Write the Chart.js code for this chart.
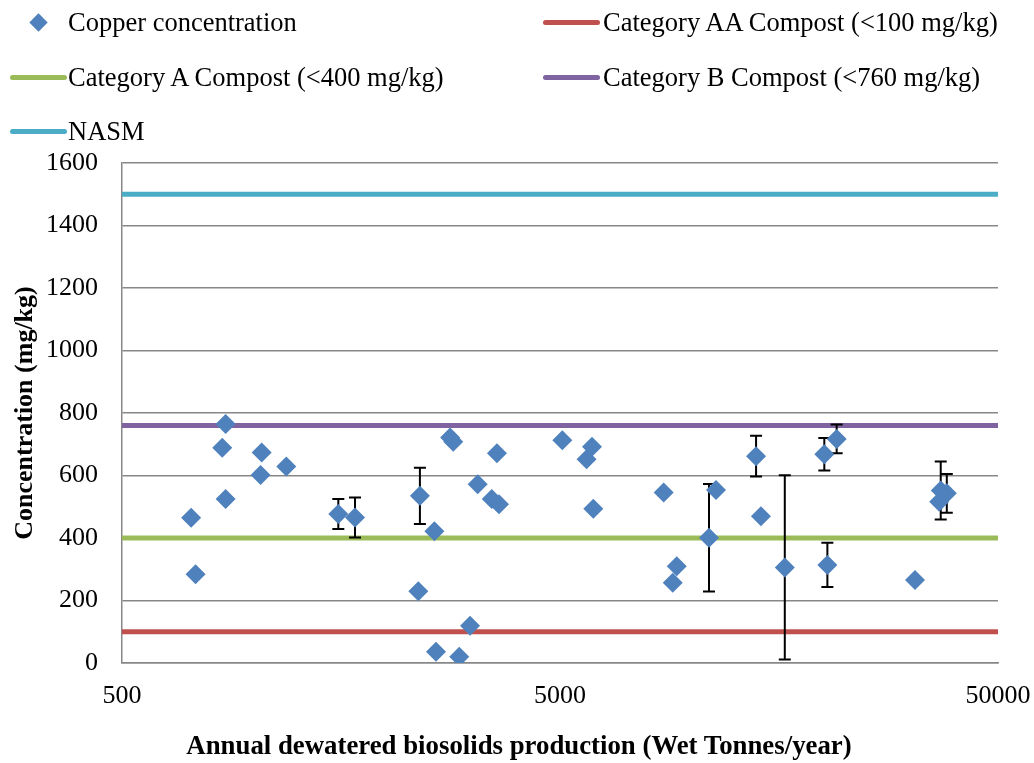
<!DOCTYPE html>
<html>
<head>
<meta charset="utf-8">
<script src="https://cdn.jsdelivr.net/npm/chart.js@4/dist/chart.umd.min.js"></script>
<style>
  body { margin: 0; background: #fff; }
  #wrap { position: relative; width: 1034px; height: 763px; font-family: "Liberation Serif", "Times New Roman", serif; }
  #chart { position: absolute; left: 0; top: 0; }
  .leg { position: absolute; font-size: 26.5px; line-height: 30px; color: #000; white-space: nowrap; }
  .sw { position: absolute; height: 5px; border-radius: 3px; }
  .dia { position: absolute; width: 13px; height: 13px; background: #4F81BD; transform: rotate(45deg); }
  #xtitle { position: absolute; left: 0; width: 1038px; top: 730px; text-align: center;
            font-size: 26.8px; line-height: 30px; font-weight: bold; color: #000; }
</style>
</head>
<body>
<div id="wrap">
  <canvas id="chart" width="1034" height="763"></canvas>
  <div id="xtitle">Annual dewatered biosolids production (Wet Tonnes/year)</div>
</div>
<script>
// copper concentration per facility
let production = [719, 736, 862, 847, 862, 1042, 1036, 1186, 1559, 1702,
                  2394, 2374, 2583, 2806, 2853, 2605, 2944, 3589, 3244, 3493,
                  3628, 3116, 5061, 5916, 5750, 5957, 8624, 9236, 9045, 10944,
                  11353, 14016, 14380, 16300, 20065, 21410, 20390, 32320, 36700, 37000,
                  38200];
let copper = [465, 284, 765, 689, 525, 674, 602, 629, 477, 466,
              535, 230, 422, 722, 708, 36, 20, 671, 572, 525,
              508, 119, 713, 692, 652, 494, 546, 310, 257, 401,
              554, 662, 470, 306, 668, 717, 314, 266, 516, 552,
              543];
let copperErr = [0, 0, 0, 0, 0, 0, 0, 0, 48, 64,
                 90, 0, 0, 0, 0, 0, 0, 0, 0, 0,
                 0, 8, 0, 0, 0, 0, 0, 0, 0, 172,
                 0, 65, 0, 295, 52, 46, 71, 0, 0, 93,
                 62];

// compost / NASM limits
let limitNames = ['Category AA Compost (<100 mg/kg)', 'Category A Compost (<400 mg/kg)',
                  'Category B Compost (<760 mg/kg)', 'NASM'];
let limitValues = [100, 400, 760, 1500];
let limitColors = ['#C0504D', '#9BBB59', '#8064A2', '#4BACC6'];

let xTicks = [500, 5000, 50000];
let yTicks = [0, 200, 400, 600, 800, 1000, 1200, 1400, 1600];

const blue = '#4F81BD',
      gridGray = '#878787',
      font = '"Liberation Serif", "Times New Roman", serif';

// legend, laid out like the original (two columns)
const $wrap = document.getElementById('wrap');
const legendSlots = [
    { left: 603, top: 22, sw: 543 },
    { left: 68, top: 77, sw: 10 },
    { left: 603, top: 77, sw: 543 },
    { left: 68, top: 131, sw: 10 }
];
let first = document.createElement('div');
first.className = 'leg';
first.style.left = '68px';
first.style.top = (22 - 15) + 'px';
first.textContent = 'Copper concentration';
$wrap.appendChild(first);
let dia = document.createElement('div');
dia.className = 'dia';
dia.style.left = (38 - 6.5) + 'px';
dia.style.top = (22 - 6.5) + 'px';
$wrap.appendChild(dia);

limitNames.forEach((name, i) => {
    let slot = legendSlots[i];
    let t = document.createElement('div');
    t.className = 'leg';
    t.style.left = slot.left + 'px';
    t.style.top = (slot.top - 15) + 'px';
    t.textContent = name;
    $wrap.appendChild(t);
    let s = document.createElement('div');
    s.className = 'sw';
    s.style.left = slot.sw + 'px';
    s.style.width = '57px';
    s.style.top = (slot.top - 2.5) + 'px';
    s.style.background = limitColors[i];
    $wrap.appendChild(s);
});

// error bars drawn between the limit lines and the diamonds
const errorBars = {
    id: 'errorBars',
    beforeDatasetDraw(chart, args) {
        if (args.index !== 0) return;
        const ctx = chart.ctx,
              xs = chart.scales.x,
              ys = chart.scales.y;
        ctx.save();
        ctx.strokeStyle = '#000';
        ctx.lineWidth = 2;
        production.forEach((p, i) => {
            let e = copperErr[i];
            if (!e) return;
            let px = xs.getPixelForValue(p),
                top = ys.getPixelForValue(copper[i] + e),
                bot = ys.getPixelForValue(copper[i] - e);
            ctx.beginPath();
            ctx.moveTo(px, top);
            ctx.lineTo(px, bot);
            ctx.moveTo(px - 6, top);
            ctx.lineTo(px + 6, top);
            ctx.moveTo(px - 6, bot);
            ctx.lineTo(px + 6, bot);
            ctx.stroke();
        });
        ctx.restore();
    }
};

let datasets = [{
    label: 'Copper concentration',
    data: production.map((p, i) => ({ x: p, y: copper[i] })),
    pointStyle: 'rectRot',
    pointRadius: 10,
    pointBackgroundColor: blue,
    pointBorderColor: blue,
    pointBorderWidth: 0,
    order: 0
}];
limitValues.forEach((v, i) => {
    datasets.push({
        label: limitNames[i],
        data: [{ x: xTicks[0], y: v }, { x: xTicks[xTicks.length - 1], y: v }],
        showLine: true,
        borderColor: limitColors[i],
        borderWidth: 5,
        pointRadius: 0,
        order: 1
    });
});

new Chart(document.getElementById('chart').getContext('2d'), {
    type: 'scatter',
    data: { datasets: datasets },
    plugins: [errorBars],
    options: {
        responsive: false,
        animation: false,
        devicePixelRatio: 1,
        layout: { padding: { left: 10, right: 36, top: 163, bottom: 0 } },
        plugins: {
            legend: { display: false },
            tooltip: { enabled: false }
        },
        scales: {
            x: {
                type: 'logarithmic',
                min: xTicks[0],
                max: xTicks[xTicks.length - 1],
                afterBuildTicks: (scale) => { scale.ticks = xTicks.map(v => ({ value: v })); },
                afterFit: (scale) => {
                    scale.height = 100;
                    scale.paddingLeft = 0;
                    scale.paddingRight = 0;
                },
                grid: { display: true, color: 'rgba(0,0,0,0)', drawTicks: false },
                border: { color: gridGray, width: 1.5 },
                ticks: {
                    color: '#000', padding: 18, maxRotation: 0, autoSkip: false,
                    font: { family: font, size: 26 },
                    callback: (v) => String(v)
                },
                title: { display: false }
            },
            y: {
                min: yTicks[0],
                max: yTicks[yTicks.length - 1],
                afterBuildTicks: (scale) => { scale.ticks = yTicks.map(v => ({ value: v })); },
                afterFit: (scale) => {
                    scale.width = 112;
                    scale.paddingTop = 0;
                    scale.paddingBottom = 0;
                },
                grid: { color: gridGray, lineWidth: 1.5, drawTicks: false },
                border: { color: gridGray, width: 1.5 },
                ticks: {
                    color: '#000', padding: 24,
                    font: { family: font, size: 26 },
                    callback: (v) => String(v)
                },
                title: {
                    display: true,
                    text: 'Concentration (mg/kg)',
                    color: '#000',
                    padding: { top: 0, bottom: 0 },
                    font: { family: font, size: 26, weight: 'bold' }
                }
            }
        }
    }
});
</script>
</body>
</html>
